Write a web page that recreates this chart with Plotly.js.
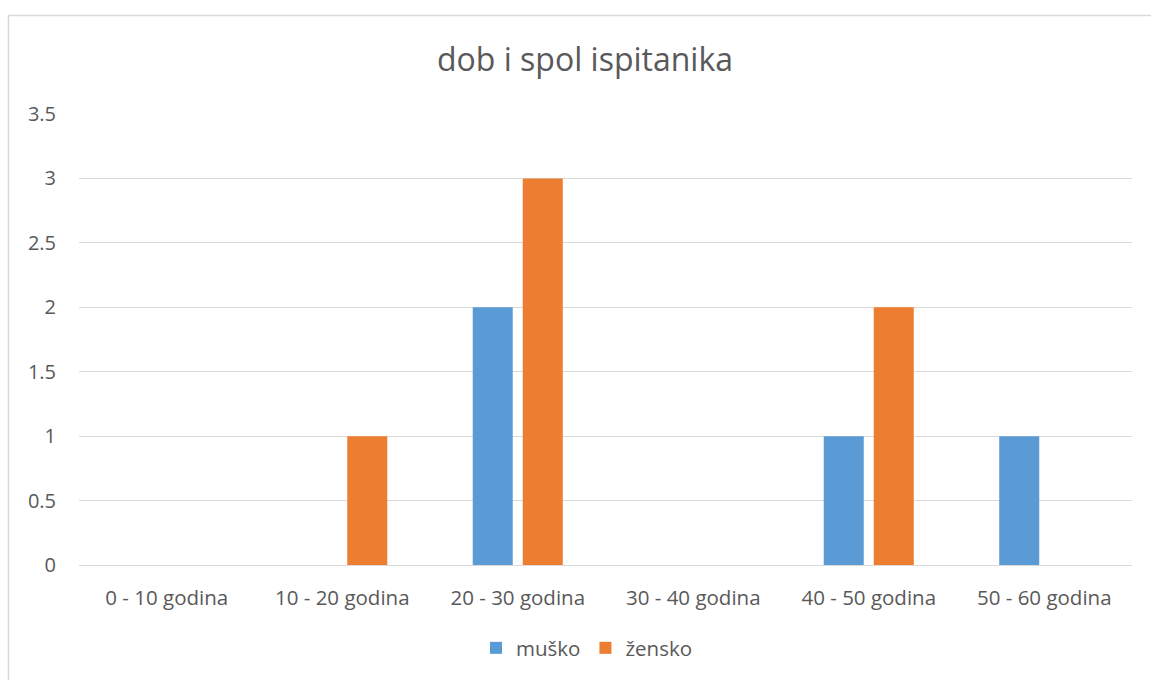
<!DOCTYPE html>
<html>
<head>
<meta charset="utf-8">
<script src="https://cdn.plot.ly/plotly-3.0.1.min.js"></script>
<style>html,body{margin:0;padding:0;background:#fff;}#chart{width:1151px;height:680px;}</style>
</head>
<body>
<div id="chart"></div>
<script>
const categories = ["0 - 10 godina", "10 - 20 godina", "20 - 30 godina", "30 - 40 godina", "40 - 50 godina", "50 - 60 godina"];
const musko = [0, 0, 2, 0, 1, 1];
const zensko = [0, 1, 3, 0, 2, 0];
const seriesNames = ["muško", "žensko"];
const yTicks = [0, 0.5, 1, 1.5, 2, 2.5, 3, 3.5];

const W = 1151, H = 680, L = 79, R = 19, T = 114, B = 115;
const pw = W - L - R, ph = H - T - B;
const px = v => (v - L) / pw;
const py = v => (H - B - v) / ph;

const font = '"Open Sans", Lato, sans-serif';
const traces = [
  {type: 'bar', name: seriesNames[0], x: categories, y: musko, marker: {color: '#5B9BD5'}},
  {type: 'bar', name: seriesNames[1], x: categories, y: zensko, marker: {color: '#ED7D31'}}
];
const layout = {
  width: W, height: H,
  margin: {l: L, r: R, t: T, b: B},
  paper_bgcolor: '#fff', plot_bgcolor: '#fff',
  title: {text: 'dob i spol ispitanika', font: {family: font, size: 32, color: '#595959'}, xref: 'paper', x: px(585), xanchor: 'center', y: 1 - 60 / H, yanchor: 'middle'},
  barmode: 'group', bargap: 0.43, bargroupgap: 0.2,
  xaxis: {type: 'category', tickfont: {family: font, size: 20.5, color: '#595959'}, showgrid: false, showline: false, zeroline: false,
          ticks: 'outside', ticklen: 14, tickcolor: 'rgba(0,0,0,0)'},
  yaxis: {range: [0, 3.5], tickvals: yTicks, ticktext: yTicks.map(String), tickfont: {family: font, size: 20, color: '#595959'},
          showgrid: true, gridcolor: '#d9d9d9', gridwidth: 1, zeroline: true, zerolinecolor: '#d9d9d9', zerolinewidth: 1, showline: false,
          ticks: 'outside', ticklen: 18, tickcolor: 'rgba(0,0,0,0)'},
  showlegend: true,
  legend: {orientation: 'h', x: px(587), xanchor: 'center', y: py(648), yanchor: 'middle', font: {family: font, size: 20.5, color: '#595959'}, itemwidth: 30, tracegroupgap: 0},
  shapes: [{type: 'rect', xref: 'paper', yref: 'paper', x0: px(8.5), x1: px(1160), y0: py(15.5), y1: py(700), line: {color: '#d9d9d9', width: 1.5}, fillcolor: 'rgba(0,0,0,0)', layer: 'below'}]
};
Plotly.newPlot('chart', traces, layout, {displayModeBar: false, staticPlot: true});
</script>
</body>
</html>
